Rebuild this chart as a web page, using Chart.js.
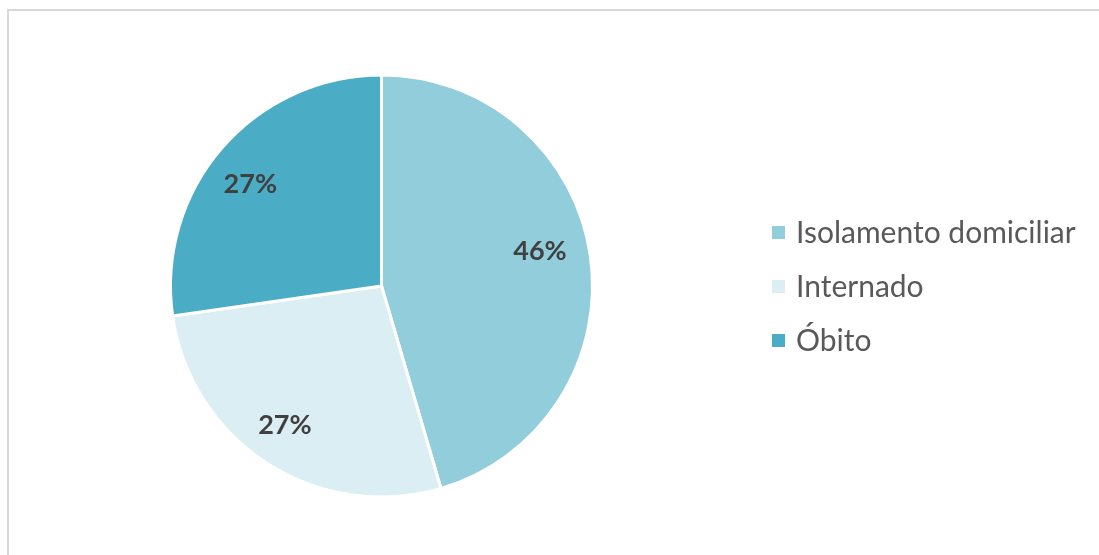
<!DOCTYPE html>
<html>
<head>
<meta charset="utf-8">
<script src="https://cdn.jsdelivr.net/npm/chart.js@4"></script>
<style>
  html, body { margin: 0; padding: 0; background: #fff; }
  #wrap { position: relative; width: 1099px; height: 555px; overflow: hidden; }
  #frame { position: absolute; left: 7px; top: 9px; width: 1200px; height: 700px; border: 2px solid #d9d9d9; box-sizing: border-box; }
  canvas { position: absolute; left: 0; top: 0; }
</style>
</head>
<body>
<div id="wrap">
  <div id="frame"></div>
  <canvas id="pie" width="1099" height="555"></canvas>
</div>
<script>
// chart data (percent values, labels show the value rounded)
const categories = ['Isolamento domiciliar', 'Internado', 'Óbito'];
const values = [45.5, 27.3, 27.3];
const colors = ['#92CDDC', '#DAEEF3', '#4BACC6'];

const fontFamily = 'Lato, "Open Sans", sans-serif';

// percentage labels inside the slices
const sliceLabels = {
  id: 'sliceLabels',
  afterDatasetsDraw(chart) {
    const ctx = chart.ctx;
    const meta = chart.getDatasetMeta(0);
    // small tweaks so labels sit where Excel put them
    const angleNudge = [-4.5, 2.2, -2.8];
    const distFrac = [0.77, 0.80, 0.79];
    ctx.save();
    ctx.font = 'bold 27px ' + fontFamily;
    ctx.fillStyle = '#404040';
    ctx.textAlign = 'center';
    ctx.textBaseline = 'middle';
    meta.data.forEach((arc, i) => {
      const mid = (arc.startAngle + arc.endAngle) / 2 + angleNudge[i] * Math.PI / 180;
      const d = arc.outerRadius * distFrac[i];
      const x = arc.x + Math.cos(mid) * d;
      const y = arc.y + Math.sin(mid) * d;
      ctx.fillText(Math.round(values[i]) + '%', x, y + 1);
    });
    ctx.restore();
  }
};

// legend on the right
const sideLegend = {
  id: 'sideLegend',
  afterDraw(chart) {
    const ctx = chart.ctx;
    ctx.save();
    ctx.font = '30px ' + fontFamily;
    ctx.textBaseline = 'middle';
    ctx.textAlign = 'left';
    categories.forEach((name, i) => {
      const y = 232 + i * 54;
      ctx.fillStyle = colors[i];
      ctx.fillRect(772, y - 6, 13, 13);
      ctx.fillStyle = '#595959';
      ctx.fillText(name, 796, y + 1);
    });
    ctx.restore();
  }
};

new Chart(document.getElementById('pie'), {
  type: 'pie',
  data: {
    labels: categories,
    datasets: [{
      data: values,
      backgroundColor: colors,
      borderColor: '#ffffff',
      borderWidth: 3
    }]
  },
  options: {
    responsive: false,
    animation: false,
    layout: { padding: { left: 169, right: 505, top: 73, bottom: 56 } },
    plugins: {
      legend: { display: false },
      tooltip: { enabled: false }
    }
  },
  plugins: [sliceLabels, sideLegend]
});
</script>
</body>
</html>
